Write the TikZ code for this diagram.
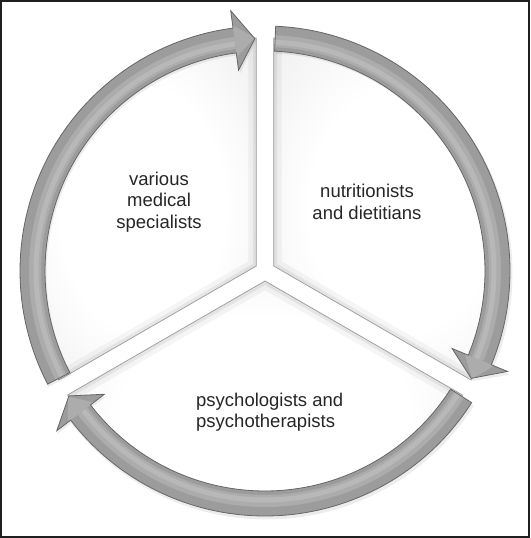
\documentclass[tikz,border=0pt]{standalone}
\usepackage{fontspec}
\setmainfont{Liberation Sans}
\definecolor{arrowbase}{HTML}{9C9C9C}
\definecolor{arrowhi}{HTML}{ACACAC}
\definecolor{arrowhitwo}{HTML}{B8B8B8}
\definecolor{arrowedge}{HTML}{666666}
\definecolor{sectoredge}{HTML}{9A9A9A}
\definecolor{textcol}{HTML}{262626}
\pgfdeclareradialshading{sectorshade}{\pgfpoint{0bp}{0bp}}{color(0bp)=(white); color(18bp)=(white); color(32bp)=(black!5); color(44bp)=(black!11); color(50bp)=(black!17)}
% sector: #1 start angle, #2 end angle, #3 bisector
\newcommand\mysector[3]{%
  \begin{scope}[shift={(#3:10)}]
    \path[shading=sectorshade] (0,0) -- (#1:228) arc[start angle=#1,end angle=#2,radius=228] -- cycle;
    \begin{scope}
      \clip (0,0) -- (#1:228) arc[start angle=#1,end angle=#2,radius=228] -- cycle;
      \draw[line width=16, black, opacity=0.04] (0,0) -- (#1:228) arc[start angle=#1,end angle=#2,radius=228] -- cycle;
      \draw[line width=7, black, opacity=0.06] (0,0) -- (#1:228) arc[start angle=#1,end angle=#2,radius=228] -- cycle;
    \end{scope}
    \draw[sectoredge, line width=0.7] (0,0) -- (#1:228) arc[start angle=#1,end angle=#2,radius=228] -- cycle;
  \end{scope}}
% arrow: #1 tail angle, #2 head base angle, #3 tip angle
\newcommand\myarrow[3]{%
  \fill[black, opacity=0.07, shift={(1.5,-2.5)}] (#1:246) arc[start angle=#1,end angle=#2,radius=246] -- (#2:264) -- (#3:233) -- (#2:202) -- (#2:220) arc[start angle=#2,end angle=#1,radius=220] -- cycle;
  \fill[arrowbase] (#1:245) arc[start angle=#1,end angle=#2,radius=245] -- (#2:262.5) -- (#3:232.5) -- (#2:202.5) -- (#2:220) arc[start angle=#2,end angle=#1,radius=220] -- cycle;
  \draw[arrowhi, line width=12] (#1:230) arc[start angle=#1,end angle=#2,radius=230];
  \draw[arrowhitwo, line width=5] (#1:229) arc[start angle=#1,end angle=#2,radius=229];
  \fill[arrowhi] (#2:248) -- (#3:233.5) -- (#2:216) -- cycle;
  \draw[arrowedge, line width=0.8, line join=miter] (#1:245) arc[start angle=#1,end angle=#2,radius=245] -- (#2:262.5) -- (#3:232.5) -- (#2:202.5) -- (#2:220) arc[start angle=#2,end angle=#1,radius=220] -- cycle;}
\begin{document}
\begin{tikzpicture}[x=1pt,y=1pt,
  lbl/.style={inner sep=0pt, text=textcol, font=\fontsize{18.5}{21.5}\selectfont}]
\useasboundingbox (0,0) rectangle (530,538);
\fill[white] (0,0) rectangle (530,538);
\begin{scope}[shift={(265,267)}]
  \mysector{90}{210}{150}
  \mysector{-30}{90}{30}
  \mysector{210}{330}{270}
  \myarrow{207.5}{97.5}{92.5}
  \myarrow{87.5}{-22.5}{-27.5}
  \myarrow{-32.5}{-142.5}{-147.5}
\end{scope}
\node[lbl, align=center] (med) at (159,336) {various\\medical\\specialists};
\node[lbl, align=center] (nut) at (367,336) {nutritionists\\and dietitians};
\node[lbl, align=left, anchor=west, font=\fontsize{18.5}{20.5}\selectfont] (psy) at (196,126) {psychologists and\\psychotherapists};
\draw[line width=2, black!88] (1,1) rectangle (529,537);
\end{tikzpicture}
\end{document}
